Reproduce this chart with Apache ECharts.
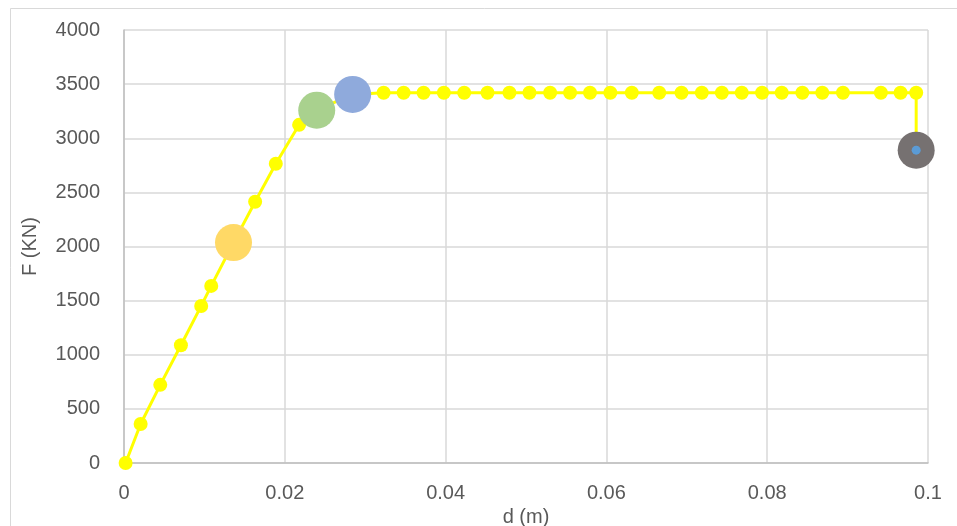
<!DOCTYPE html>
<html>
<head>
<meta charset="utf-8">
<script src="https://cdn.jsdelivr.net/npm/echarts@6/dist/echarts.min.js"></script>
<style>
html,body{margin:0;padding:0;background:#fff;}
#chart{width:957px;height:526px;}
</style>
</head>
<body>
<div id="chart"></div>
<script>
// Main force-displacement curve: d (m), F (KN)
const dValues = [0.0002, 0.00207, 0.00451, 0.00708, 0.0096, 0.01085, 0.01362, 0.01631, 0.01888, 0.02178, 0.02397, 0.02844,
  0.03229, 0.03478, 0.03726, 0.03978, 0.04231, 0.04521, 0.04794, 0.05043, 0.05300, 0.05548, 0.05796, 0.06049, 0.06316,
  0.06657, 0.06934, 0.07187, 0.07436, 0.07684, 0.07936, 0.08181, 0.08437, 0.08685, 0.08942, 0.09414, 0.09659, 0.09853, 0.09853];
const fValues = [0, 360, 722, 1088, 1451, 1636, 2036, 2414, 2765, 3124, 3259, 3405,
  3420, 3420, 3420, 3420, 3420, 3420, 3420, 3420, 3420, 3420, 3420, 3420, 3420,
  3420, 3420, 3420, 3420, 3420, 3420, 3420, 3420, 3420, 3420, 3420, 3420, 3420, 2890];
// Highlighted points
const pointOrange = [0.01362, 2036];
const pointGreen = [0.02397, 3259];
const pointBlue = [0.02844, 3405];
const pointGray = [0.09853, 2890];
const xTicks = [0, 0.02, 0.04, 0.06, 0.08, 0.1];
const yTicks = [0, 500, 1000, 1500, 2000, 2500, 3000, 3500, 4000];

const mainData = dValues.map((d, i) => [d, fValues[i]]);
const font = '"Liberation Sans", Arial, sans-serif';
const chart = echarts.init(document.getElementById('chart'));
chart.setOption({
  animation: false,
  backgroundColor: '#fff',
  graphic: [{
    type: 'rect', left: 8, top: 6, z: -10,
    shape: { width: 1000, height: 600 },
    style: { fill: 'none', stroke: '#D9D9D9', lineWidth: 1 }
  }],
  grid: { left: 124, right: 29, top: 30, bottom: 63, outerBoundsMode: 'none', containLabel: false },
  xAxis: {
    type: 'value', min: 0, max: 0.1, interval: 0.02,
    name: 'd (m)', nameLocation: 'middle', nameGap: 42,
    nameTextStyle: { fontFamily: font, fontSize: 20, color: '#595959' },
    axisLine: { show: true, lineStyle: { color: '#BFBFBF', width: 1.5 } },
    axisTick: { show: false },
    splitLine: { show: true, lineStyle: { color: '#D9D9D9', width: 1.5 } },
    axisLabel: { fontFamily: font, fontSize: 20, color: '#595959', margin: 20,
      formatter: v => { const t = xTicks.find(x => Math.abs(x - v) < 1e-9); return t === undefined ? '' : String(t); } }
  },
  yAxis: {
    type: 'value', min: 0, max: 4000, interval: 500,
    name: 'F (KN)', nameLocation: 'middle', nameGap: 84,
    nameTextStyle: { fontFamily: font, fontSize: 20, color: '#595959' },
    axisLine: { show: true, lineStyle: { color: '#BFBFBF', width: 1.5 } },
    axisTick: { show: false },
    splitLine: { show: true, lineStyle: { color: '#D9D9D9', width: 1.5 } },
    axisLabel: { fontFamily: font, fontSize: 20, color: '#595959', margin: 24,
      formatter: v => (yTicks.includes(v) ? String(v) : '') }
  },
  series: [
    {
      type: 'line', data: mainData, symbol: 'circle', symbolSize: 14, showAllSymbol: true,
      lineStyle: { color: '#FFFF00', width: 3 },
      itemStyle: { color: '#FFFF00', opacity: 1 }, z: 2
    },
    { type: 'scatter', data: [pointOrange], symbolSize: 37, itemStyle: { color: '#FFD966', opacity: 1 }, z: 3 },
    { type: 'scatter', data: [pointGreen], symbolSize: 37, itemStyle: { color: '#A9D18E', opacity: 1 }, z: 3 },
    { type: 'scatter', data: [pointBlue], symbolSize: 37, itemStyle: { color: '#8FAADC', opacity: 1 }, z: 3 },
    { type: 'scatter', data: [pointGray], symbolSize: 37, itemStyle: { color: '#767171', opacity: 1 }, z: 3 },
    { type: 'scatter', data: [pointGray], symbolSize: 9, itemStyle: { color: '#5B9BD5', opacity: 1 }, z: 4 }
  ]
});
</script>
</body>
</html>
